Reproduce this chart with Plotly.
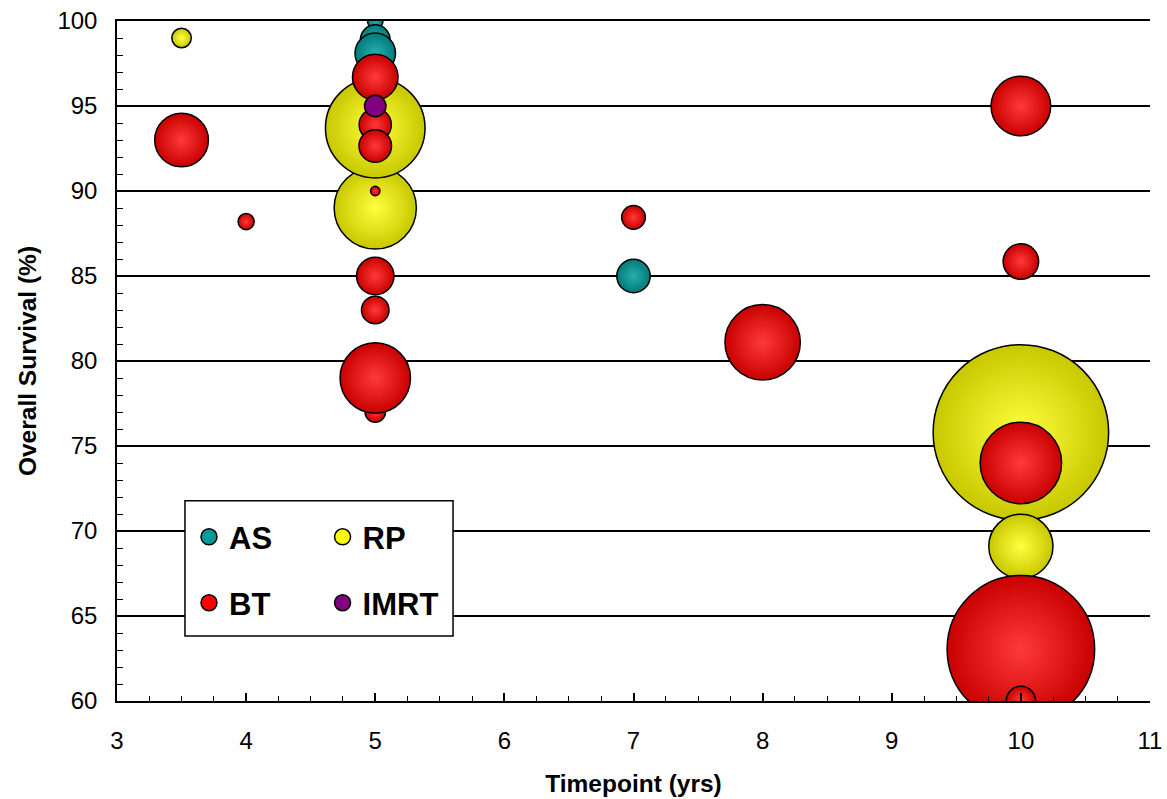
import plotly.graph_objects as go

# ---- data ----
AS_x = [5, 5, 5, 7]
AS_y = [100, 98.9, 98.1, 85]
AS_n = [60, 220, 410, 280]

RP_x = [3.5, 5, 5, 10, 10]
RP_y = [99, 89, 93.7, 75.8, 69.1]
RP_n = [95, 1690, 2480, 7700, 1030]

BT_x = [3.5, 4, 5, 5, 5, 5, 5, 5, 5, 5, 7, 8, 10, 10, 10, 10, 10]
BT_y = [93, 88.2, 96.7, 93.9, 92.65, 90, 85, 83, 77, 79, 88.45, 81.1, 95, 85.85, 74, 63.05, 60]
BT_n = [720, 65, 520, 260, 265, 22, 350, 190, 105, 1240, 140, 1420, 890, 315, 1660, 5440, 215]

IMRT_x = [5]
IMRT_y = [95]
IMRT_n = [115]

series = [
    # name, x, y, n, edge colour, centre colour, legend colour, legend id
    ("AS", AS_x, AS_y, AS_n, "#007a7a", "#2aaeae", "#009999", "legend"),
    ("RP", RP_x, RP_y, RP_n, "#c8c800", "#ffff40", "#ffff00", "legend2"),
    ("BT", BT_x, BT_y, BT_n, "#c80000", "#ff3a3a", "#ff0000", "legend3"),
    ("IMRT", IMRT_x, IMRT_y, IMRT_n, "#800080", "#800080", "#800080", "legend4"),
]

FONT = "Arial, Liberation Sans, sans-serif"

fig = go.Figure()
for name, xs, ys, ns, edge, centre, lc, lg in series:
    fig.add_trace(go.Scatter(
        x=xs, y=ys, mode="markers", name=name, showlegend=False,
        marker=dict(size=ns, sizemode="area", sizeref=0.5, color=edge,
                    gradient=dict(type="radial", color=centre),
                    line=dict(color="black", width=1.5), opacity=1),
        hoverinfo="x+y+name",
    ))

for name, xs, ys, ns, edge, centre, lc, lg in series:
    fig.add_trace(go.Scatter(
        x=[None], y=[None], mode="markers", name=name, showlegend=True, legend=lg,
        marker=dict(size=18, color=lc, line=dict(color="black", width=1.5)),
    ))

leg_common = dict(bgcolor="rgba(0,0,0,0)", borderwidth=0,
                  font=dict(family=FONT, size=31, color="black", weight="bold"),
                  xanchor="left", yanchor="middle", itemclick=False)
fig.update_layout(
    legend=dict(x=0.0697, y=0.241, **leg_common),
    legend2=dict(x=0.199, y=0.241, **leg_common),
    legend3=dict(x=0.0697, y=0.144, **leg_common),
    legend4=dict(x=0.199, y=0.144, **leg_common),
)

fig.add_shape(type="rect", xref="paper", yref="paper",
              x0=0.0658, x1=0.3253, y0=0.0956, y1=0.2946,
              line=dict(color="black", width=1.5), fillcolor="white", layer="above")

fig.update_layout(
    width=1167, height=799,
    margin=dict(l=117, r=17, t=21, b=98, autoexpand=False),
    paper_bgcolor="white", plot_bgcolor="white",
    font=dict(family=FONT, color="black"),
    xaxis=dict(range=[3, 11], dtick=1, tick0=3, ticks="inside", ticklen=8, tickwidth=1.5,
               tickcolor="black", showline=True, linecolor="black", linewidth=1.5, mirror=True,
               showgrid=False, zeroline=False, automargin=False,
               tickfont=dict(family=FONT, size=24, color="black"), ticklabelstandoff=17,
               minor=dict(dtick=0.25, ticks="inside", ticklen=5, tickwidth=1.2, tickcolor="black",
                          showgrid=False),
               title=dict(text="Timepoint (yrs)", standoff=22,
                          font=dict(family=FONT, size=24.5, color="black", weight="bold"))),
    yaxis=dict(range=[60, 100], dtick=5, tick0=60, ticks="inside", ticklen=9, tickwidth=1.5,
               tickcolor="black", showline=True, linecolor="black", linewidth=1.5,
               showgrid=True, gridcolor="black", gridwidth=1.5, zeroline=False, automargin=False,
               tickfont=dict(family=FONT, size=24, color="black"), ticklabelstandoff=13,
               minor=dict(dtick=1, ticks="inside", ticklen=6, tickwidth=1.2, tickcolor="black",
                          showgrid=False),
               title=dict(text="Overall Survival (%)", standoff=14,
                          font=dict(family=FONT, size=24.5, color="black", weight="bold"))),
)

fig.write_html("out.html", config={"displayModeBar": False},
               post_script="document.body.style.margin='0';")
